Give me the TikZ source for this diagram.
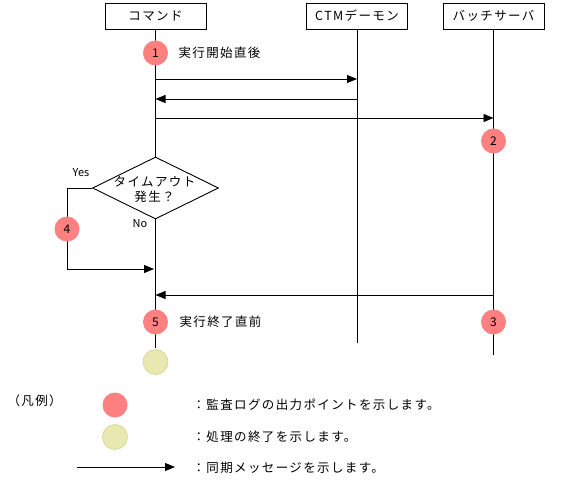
\documentclass[tikz,border=0pt]{standalone}
\usepackage{fontspec}
\setmainfont{Noto Sans CJK JP}
\usetikzlibrary{arrows.meta,shapes.geometric}
\definecolor{auditred}{HTML}{FF8080}
\definecolor{endfill}{HTML}{E8E8B0}
\definecolor{endline}{HTML}{D4D490}
\newcommand{\jp}{\fontsize{12.5}{15}\selectfont\addfontfeature{LetterSpace=11}}
\begin{document}
\begin{tikzpicture}[x=1pt,y=-1pt,
  every node/.style={font=\jp},
  actor/.style={draw, line width=0.9pt, minimum width=101pt, minimum height=26pt, inner sep=0pt},
  life/.style={line width=0.9pt},
  msg/.style={line width=0.9pt, -{Triangle[length=10pt,width=8pt]}},
  audit/.style={circle, fill=auditred, minimum size=25pt, inner sep=0pt, font=\fontsize{12}{14}\selectfont},
  endpt/.style={circle, fill=endfill, draw=endline, line width=0.6pt, minimum size=25pt, inner sep=0pt},
  small/.style={font=\fontsize{11}{13}\selectfont}]
\useasboundingbox (0,0) rectangle (572,484);

% actors
\node[actor] (cmd) at (155.5,16) {コマンド};
\node[actor] (ctm) at (357,16) {CTMデーモン};
\node[actor] (bat) at (493.5,16) {バッチサーバ};

% lifeline ends
\coordinate (cmdE) at (155.5,348);
\coordinate (ctmE) at (357,343);
\coordinate (batE) at (493.5,355);
\draw[life] (cmd.south) -- (cmdE);
\draw[life] (ctm.south) -- (ctmE);
\draw[life] (bat.south) -- (batE);

% messages
\draw[msg] (cmd.south |- 0,79) -- (ctm.south |- 0,79);
\draw[msg] (ctm.south |- 0,99) -- (cmd.south |- 0,99);
\draw[msg] (cmd.south |- 0,118) -- (bat.south |- 0,118);
\draw[msg] (bat.south |- 0,295) -- (cmd.south |- 0,295);

% decision
\node[diamond, draw, fill=white, line width=0.9pt, minimum width=126pt, minimum height=62pt, inner sep=0pt] (dec) at (155.5,188) {};
\node[align=center, inner sep=0pt] (dectext) at (154.5,189) {タイムアウト\\発生？};
\node[small] (yes) at (81,173) {Yes};
\node[small] (no) at (140,224) {No};
\coordinate (loopA) at (67,188);
\coordinate (loopB) at (67,269);
\draw[msg, shorten >=1.5pt] (dec.west) -- (loopA) -- (loopB) -- (cmd.south |- loopB);

% audit points
\node[audit] (p1) at (155.5,53) {1};
\node[audit] (p2) at (493.5,141) {2};
\node[audit] (p3) at (493.5,322) {3};
\node[audit] (p4) at (67,229) {4};
\node[audit] (p5) at (155.5,322) {5};
\node[endpt] (fin) at (155.5,362) {};
\node[anchor=west] (t1) at (175,53) {実行開始直後};
\node[anchor=west] (t5) at (176,322) {実行終了直前};

% legend
\node[anchor=west] (leg) at (4,401) {（凡例）};
\node[audit] (lr) at (115,405) {};
\node[endpt] (ly) at (115,437) {};
\coordinate (la) at (77,467);
\coordinate (lb) at (175,467);
\draw[msg] (la) -- (lb);
\node[anchor=west] (lt1) at (189,405) {：監査ログの出力ポイントを示します。};
\node[anchor=west] (lt2) at (189,437) {：処理の終了を示します。};
\node[anchor=west] (lt3) at (189,468) {：同期メッセージを示します。};
\end{tikzpicture}
\end{document}
